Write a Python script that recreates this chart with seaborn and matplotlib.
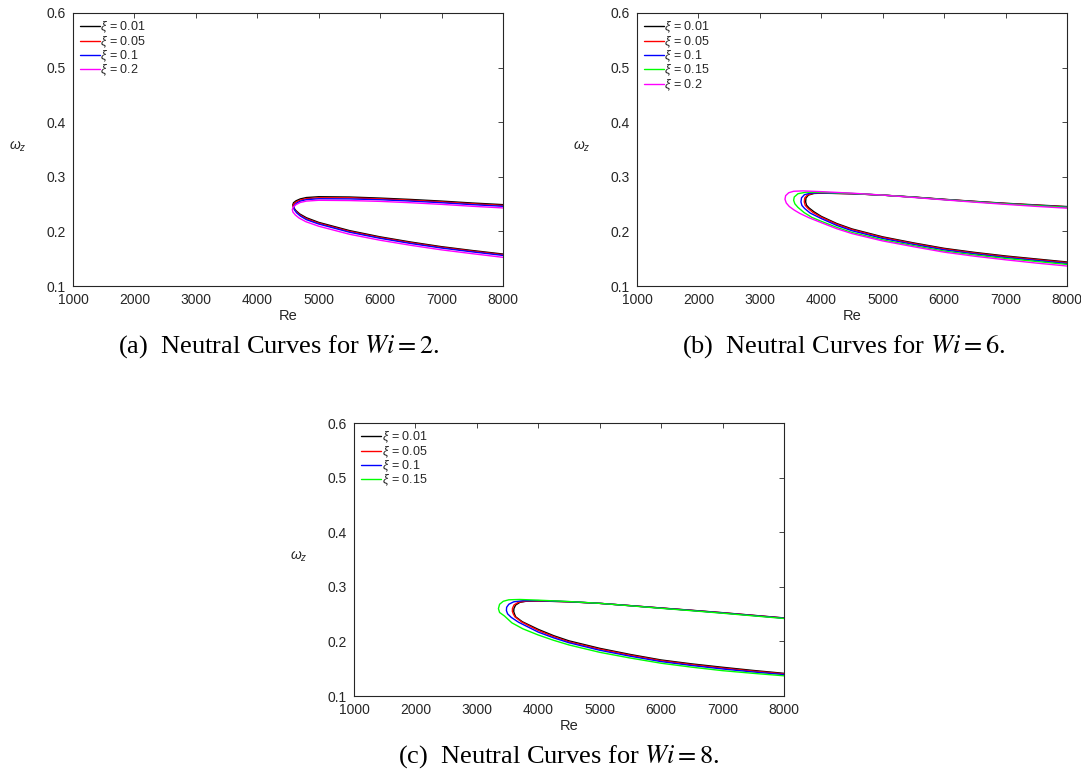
import numpy as np
import pandas as pd
import matplotlib
matplotlib.use("Agg")
import matplotlib.pyplot as plt
import seaborn as sns

# ---------------- data ----------------
xi_labels_A = ["0.01", "0.05", "0.1", "0.2"]
xi_labels_B = ["0.01", "0.05", "0.1", "0.15", "0.2"]
xi_labels_C = ["0.01", "0.05", "0.1", "0.15"]

# Panel (a) Wi = 2
re_A_k = [8000, 7500, 7000, 6500, 6000, 5500, 5000, 4800, 4700, 4630, 4590, 4578, 4590, 4630, 4690, 4800, 5000, 5500, 6000, 6500, 7000, 7500, 8000]
w_A_k = [0.2490, 0.2520, 0.2555, 0.2585, 0.2610, 0.2630, 0.2635, 0.2620, 0.2595, 0.2560, 0.2525, 0.2485, 0.2440, 0.2380, 0.2320, 0.2250, 0.2165, 0.2015, 0.1900, 0.1805, 0.1720, 0.1650, 0.1585]
re_A_r = [8000, 7500, 7000, 6500, 6000, 5500, 5000, 4800, 4700, 4635, 4595, 4583, 4595, 4635, 4695, 4800, 5000, 5500, 6000, 6500, 7000, 7500, 8000]
w_A_r = [0.2475, 0.2505, 0.2540, 0.2570, 0.2595, 0.2615, 0.2615, 0.2600, 0.2575, 0.2540, 0.2503, 0.2463, 0.2418, 0.2360, 0.2300, 0.2232, 0.2150, 0.2000, 0.1887, 0.1792, 0.1708, 0.1638, 0.1573]
re_A_b = [8000, 7500, 7000, 6500, 6000, 5500, 5000, 4800, 4700, 4640, 4605, 4595, 4605, 4640, 4700, 4800, 5000, 5500, 6000, 6500, 7000, 7500, 8000]
w_A_b = [0.2460, 0.2490, 0.2525, 0.2555, 0.2580, 0.2595, 0.2598, 0.2582, 0.2555, 0.2518, 0.2480, 0.2440, 0.2395, 0.2340, 0.2282, 0.2215, 0.2135, 0.1985, 0.1873, 0.1778, 0.1695, 0.1625, 0.1560]
re_A_m = [8000, 7500, 7000, 6500, 6000, 5500, 5000, 4800, 4700, 4630, 4585, 4570, 4580, 4620, 4680, 4790, 5000, 5500, 6000, 6500, 7000, 7500, 8000]
w_A_m = [0.2430, 0.2460, 0.2495, 0.2525, 0.2550, 0.2565, 0.2570, 0.2555, 0.2530, 0.2490, 0.2445, 0.2400, 0.2355, 0.2300, 0.2245, 0.2178, 0.2095, 0.1948, 0.1838, 0.1745, 0.1662, 0.1592, 0.1525]

# Panel (b) Wi = 6
re_B_k = [8000, 7500, 7000, 6500, 6000, 5500, 5000, 4500, 4000, 3880, 3790, 3750, 3745, 3760, 3800, 3880, 4000, 4250, 4500, 5000, 5500, 6000, 6500, 7000, 7500, 8000]
w_B_k = [0.2455, 0.2485, 0.2515, 0.2550, 0.2588, 0.2630, 0.2665, 0.2690, 0.2700, 0.2695, 0.2665, 0.2610, 0.2540, 0.2480, 0.2430, 0.2360, 0.2275, 0.2145, 0.2045, 0.1900, 0.1790, 0.1690, 0.1615, 0.1550, 0.1495, 0.1440]
re_B_r = [8000, 7500, 7000, 6500, 6000, 5500, 5000, 4500, 4000, 3870, 3775, 3730, 3723, 3738, 3780, 3860, 4000, 4250, 4500, 5000, 5500, 6000, 6500, 7000, 7500, 8000]
w_B_r = [0.2450, 0.2480, 0.2512, 0.2548, 0.2586, 0.2628, 0.2664, 0.2690, 0.2702, 0.2698, 0.2668, 0.2612, 0.2540, 0.2478, 0.2425, 0.2350, 0.2260, 0.2132, 0.2032, 0.1888, 0.1778, 0.1678, 0.1603, 0.1538, 0.1483, 0.1428]
re_B_b = [8000, 7500, 7000, 6500, 6000, 5500, 5000, 4500, 4000, 3830, 3725, 3678, 3669, 3685, 3730, 3820, 4000, 4250, 4500, 5000, 5500, 6000, 6500, 7000, 7500, 8000]
w_B_b = [0.2445, 0.2476, 0.2508, 0.2545, 0.2584, 0.2627, 0.2664, 0.2692, 0.2706, 0.2702, 0.2672, 0.2615, 0.2540, 0.2475, 0.2418, 0.2335, 0.2235, 0.2110, 0.2012, 0.1870, 0.1762, 0.1662, 0.1588, 0.1522, 0.1468, 0.1412]
re_B_g = [8000, 7500, 7000, 6500, 6000, 5500, 5000, 4500, 4000, 3750, 3620, 3560, 3550, 3570, 3620, 3720, 3850, 4000, 4250, 4500, 5000, 5500, 6000, 6500, 7000, 7500, 8000]
w_B_g = [0.2440, 0.2472, 0.2505, 0.2543, 0.2582, 0.2626, 0.2665, 0.2695, 0.2715, 0.2718, 0.2690, 0.2630, 0.2570, 0.2505, 0.2440, 0.2345, 0.2255, 0.2185, 0.2075, 0.1980, 0.1845, 0.1740, 0.1640, 0.1568, 0.1505, 0.1450, 0.1395]
re_B_m = [8000, 7500, 7000, 6500, 6000, 5500, 5000, 4500, 4000, 3700, 3550, 3470, 3420, 3409, 3430, 3480, 3560, 3650, 3800, 4000, 4250, 4500, 5000, 5500, 6000, 6500, 7000, 7500, 8000]
w_B_m = [0.2425, 0.2458, 0.2495, 0.2535, 0.2578, 0.2622, 0.2665, 0.2700, 0.2728, 0.2742, 0.2735, 0.2708, 0.2655, 0.2590, 0.2520, 0.2455, 0.2390, 0.2330, 0.2250, 0.2160, 0.2050, 0.1960, 0.1825, 0.1720, 0.1620, 0.1545, 0.1480, 0.1420, 0.1366]

# Panel (c) Wi = 8
re_C_k = [8000, 7500, 7000, 6500, 6000, 5500, 5000, 4500, 4000, 3800, 3700, 3630, 3603, 3600, 3615, 3632, 3740, 4000, 4250, 4500, 5000, 5500, 6000, 6500, 7000, 7500, 8000]
w_C_k = [0.2430, 0.2478, 0.2526, 0.2570, 0.2612, 0.2655, 0.2697, 0.2725, 0.2740, 0.2735, 0.2715, 0.2665, 0.2600, 0.2545, 0.2495, 0.2450, 0.2360, 0.2220, 0.2105, 0.2010, 0.1873, 0.1760, 0.1660, 0.1588, 0.1526, 0.1468, 0.1415]
re_C_r = [8000, 7500, 7000, 6500, 6000, 5500, 5000, 4500, 4000, 3800, 3680, 3605, 3580, 3578, 3595, 3620, 3730, 4000, 4250, 4500, 5000, 5500, 6000, 6500, 7000, 7500, 8000]
w_C_r = [0.2428, 0.2476, 0.2524, 0.2568, 0.2611, 0.2655, 0.2697, 0.2726, 0.2742, 0.2738, 0.2718, 0.2668, 0.2605, 0.2550, 0.2498, 0.2450, 0.2355, 0.2200, 0.2088, 0.1992, 0.1858, 0.1746, 0.1647, 0.1574, 0.1511, 0.1455, 0.1405]
re_C_b = [8000, 7500, 7000, 6500, 6000, 5500, 5000, 4500, 4000, 3750, 3600, 3520, 3485, 3481, 3500, 3560, 3680, 4000, 4250, 4500, 5000, 5500, 6000, 6500, 7000, 7500, 8000]
w_C_b = [0.2425, 0.2473, 0.2521, 0.2566, 0.2609, 0.2654, 0.2697, 0.2728, 0.2747, 0.2745, 0.2725, 0.2680, 0.2625, 0.2565, 0.2505, 0.2440, 0.2350, 0.2170, 0.2065, 0.1975, 0.1838, 0.1728, 0.1630, 0.1558, 0.1495, 0.1440, 0.1392]
re_C_g = [8000, 7500, 7000, 6500, 6000, 5500, 5000, 4500, 4000, 3700, 3520, 3430, 3370, 3351, 3370, 3450, 3570, 3750, 4000, 4250, 4500, 5000, 5500, 6000, 6500, 7000, 7500, 8000]
w_C_g = [0.2420, 0.2468, 0.2516, 0.2562, 0.2606, 0.2652, 0.2697, 0.2730, 0.2755, 0.2768, 0.2762, 0.2735, 0.2680, 0.2600, 0.2530, 0.2465, 0.2340, 0.2230, 0.2117, 0.2020, 0.1935, 0.1800, 0.1695, 0.1600, 0.1528, 0.1464, 0.1415, 0.1370]

x_ticks = [1000, 2000, 3000, 4000, 5000, 6000, 7000, 8000]
y_ticks = [0.1, 0.2, 0.3, 0.4, 0.5, 0.6]
captions = ["(a)  Neutral Curves for $Wi = 2$.",
            "(b)  Neutral Curves for $Wi = 6$.",
            "(c)  Neutral Curves for $Wi = 8$."]

# ---------------- style ----------------
sns.set_style("white")
plt.rcParams["font.family"] = ["Liberation Sans", "DejaVu Sans"]
plt.rcParams["mathtext.fontset"] = "custom"
plt.rcParams["mathtext.it"] = "Liberation Sans:italic"
plt.rcParams["mathtext.rm"] = "Liberation Sans"

DARK = "#262626"
COL = {"0.01": "#000000", "0.05": "#ff0000", "0.1": "#0000ff", "0.15": "#00ff00", "0.2": "#ff00ff"}

fig = plt.figure(figsize=(10.81, 7.82), dpi=100)
W, H = 1081.0, 782.0

def make_ax(left, top, width=430, height=273):
    return fig.add_axes([left / W, 1 - (top + height) / H, width / W, height / H])

axA = make_ax(73, 13)
axB = make_ax(637, 13)
axC = make_ax(354, 423)

panels = [
    (axA, xi_labels_A, [(re_A_k, w_A_k), (re_A_r, w_A_r), (re_A_b, w_A_b), (re_A_m, w_A_m)]),
    (axB, xi_labels_B, [(re_B_k, w_B_k), (re_B_r, w_B_r), (re_B_b, w_B_b), (re_B_g, w_B_g), (re_B_m, w_B_m)]),
    (axC, xi_labels_C, [(re_C_k, w_C_k), (re_C_r, w_C_r), (re_C_b, w_C_b), (re_C_g, w_C_g)]),
]

for ax, labels, series in panels:
    for lab, (re, w) in zip(labels, series):
        df = pd.DataFrame({"Re": re, "w": w})
        sns.lineplot(data=df, x="Re", y="w", sort=False, estimator=None,
                     color=COL[lab], linewidth=1.0, label=r"$\xi$ = " + lab, ax=ax)
    ax.set_xlim(1000, 8000)
    ax.set_ylim(0.1, 0.6)
    ax.set_xticks(x_ticks)
    ax.set_yticks(y_ticks)
    ax.set_xticklabels([str(t) for t in x_ticks])
    ax.set_yticklabels(["%.1f" % t for t in y_ticks])
    ax.tick_params(direction="in", length=3.5, width=0.6, top=True, right=True,
                   labelsize=10, colors=DARK)
    ax.tick_params(axis="x", pad=5)
    ax.tick_params(axis="y", pad=5)
    for sp in ax.spines.values():
        sp.set_visible(True)
        sp.set_color(DARK)
        sp.set_linewidth(0.8)
    ax.set_xlabel("Re", fontsize=10.5, color=DARK)
    ax.xaxis.set_label_coords(0.5, -0.083)
    ax.set_ylabel(r"$\omega_z$", fontsize=10, color=DARK, rotation=0, ha="center", va="center")
    ax.yaxis.set_label_coords(-0.128, 0.51)
    leg = ax.legend(loc="upper left", bbox_to_anchor=(0, 1), frameon=False, fontsize=9,
                    handlelength=1.6, handletextpad=0.05, labelspacing=-0.1,
                    borderaxespad=0.3, borderpad=0.25)
    for t in leg.get_texts():
        t.set_color(DARK)

cap_kw = dict(fontsize=19, family="Liberation Serif", ha="center", va="center", color="black")
fig.text(279 / W, 1 - 347 / H, captions[0], math_fontfamily="stix", **cap_kw)
fig.text(844 / W, 1 - 347 / H, captions[1], math_fontfamily="stix", **cap_kw)
fig.text(559 / W, 1 - 757 / H, captions[2], math_fontfamily="stix", **cap_kw)

fig.savefig("out.png", dpi=100, facecolor="white")
